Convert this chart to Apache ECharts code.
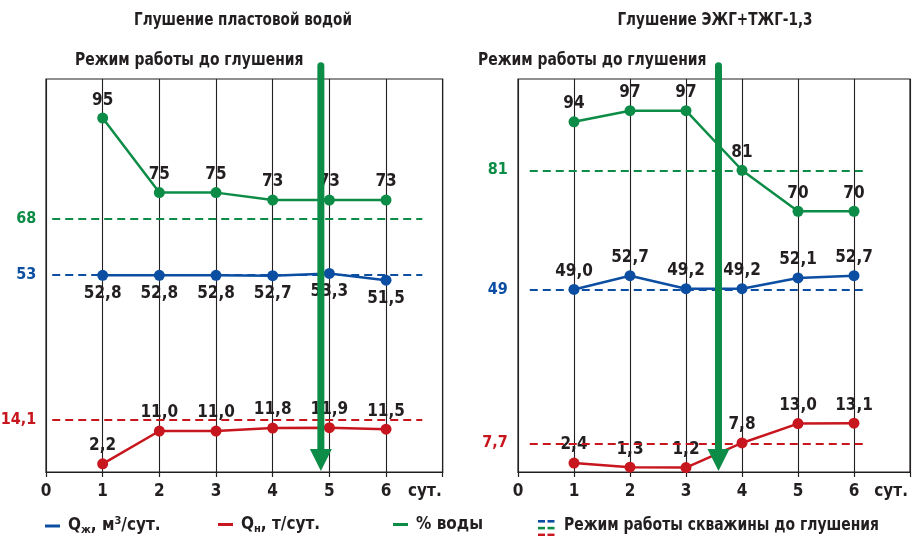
<!DOCTYPE html>
<html>
<head>
<meta charset="utf-8">
<script src="https://cdn.jsdelivr.net/npm/echarts@6/dist/echarts.min.js"></script>
<style>
  html, body { margin: 0; padding: 0; background: #fff; }
  #chart { width: 913px; height: 536px; }
</style>
</head>
<body>
<div id="chart"></div>
<script>
// Day axis
const xTicks = ['0', '1', '2', '3', '4', '5', '6'];
const days = [1, 2, 3, 4, 5, 6];

// Panel titles
const panelTitles = ['Глушение пластовой водой', 'Глушение ЭЖГ+ТЖГ-1,3'];
const regimeTitle = 'Режим работы до глушения';

// Well kill with formation water
const water1 = [95, 75, 75, 73, 73, 73];
const liquid1 = [52.8, 52.8, 52.8, 52.7, 53.3, 51.5];
const oil1 = [2.2, 11.0, 11.0, 11.8, 11.9, 11.5];

// Well kill with EZhG + TZhG-1.3
const water2 = [94, 97, 97, 81, 70, 70];
const liquid2 = [49.0, 52.7, 49.2, 49.2, 52.1, 52.7];
const oil2 = [2.4, 1.3, 1.2, 7.8, 13.0, 13.1];

// Operating regime before the kill (per panel)
const baseWater = [68, 81];
const baseLiquid = [53, 49];
const baseOil = [14.1, 7.7];

// Day of the kill operation (per panel)
const killDay = [4.85, 3.58];

const names = ['Qж, м3/сут.', 'Qн, т/сут.', '% воды'];
const legendRegime = 'Режим работы скважины до глушения';

const BLUE = '#0b4ea2';
const GREEN = '#0c8c46';
const RED = '#c8161e';
const INK = '#231f20';
const FONT = "'Liberation Sans Narrow', 'DejaVu Sans Condensed', 'Arial Narrow', sans-serif";

const Y_MAX = 105.5;
const ARROW_TOP = 110;
const dashStart = [0.11, 0.21];
const dashEnd = [6.64, 6.19];
const dashLabelGap = [16, 22];

function fmt(v, dec) {
  return v.toFixed(dec).replace('.', ',');
}

const grids = [
  { left: 46, top: 79, width: 396.7, height: 393 },
  { left: 518, top: 79, width: 397, height: 393 }
];

function xAxisFor(p) {
  return {
    type: 'value', gridIndex: p, min: 0, max: 7, interval: 1,
    axisLine: { show: true, lineStyle: { color: INK, width: 1.2 } },
    axisTick: { show: true, length: 5, lineStyle: { color: INK, width: 1.2 } },
    splitLine: { show: true, lineStyle: { color: INK, width: 1.1 } },
    axisLabel: {
      margin: 11, color: INK, fontSize: 17, fontWeight: 'bold', fontFamily: FONT,
      formatter: v => (xTicks[v] !== undefined ? xTicks[v] : '')
    },
    name: 'сут.', nameLocation: 'end', nameGap: p === 0 ? -1 : -2,
    nameTextStyle: {
      align: 'right', verticalAlign: 'top', padding: [11, 0, 0, 0],
      color: INK, fontSize: 17, fontWeight: 'bold', fontFamily: FONT
    }
  };
}

function yAxisFor(p) {
  return { type: 'value', gridIndex: p, min: 0, max: Y_MAX, show: false, splitLine: { show: false } };
}

function baseLine(p, value, color) {
  return {
    silent: true, symbol: ['none', 'none'], animation: false,
    lineStyle: { color: color, width: 2, type: [8, 5] },
    label: {
      show: true, position: 'start', distance: dashLabelGap[p],
      formatter: () => String(value).replace('.', ','),
      color: color, fontSize: 16, fontWeight: 'bold', fontFamily: FONT
    },
    emphasis: { disabled: true },
    data: [[{ coord: [dashStart[p], value] }, { coord: [dashEnd[p], value] }]]
  };
}

function lineSeries(p, name, values, color, dec, labelPos, base) {
  return {
    type: 'line', name: name, xAxisIndex: p, yAxisIndex: p, z: 3,
    data: days.map((d, i) => [d, values[i]]),
    symbol: 'circle', symbolSize: 11, animation: false,
    lineStyle: { color: color, width: 2.5 },
    itemStyle: { color: color },
    label: {
      show: true, position: labelPos, distance: 4,
      formatter: prm => fmt(prm.value[1], dec),
      color: INK, fontSize: 17, fontWeight: 'bold', fontFamily: FONT
    },
    emphasis: { disabled: true },
    markLine: baseLine(p, base, color)
  };
}

function arrowSeries(p) {
  return {
    type: 'custom', xAxisIndex: p, yAxisIndex: p, z: 10, silent: true, animation: false,
    data: [[killDay[p], ARROW_TOP]],
    renderItem: (params, api) => {
      const top = api.coord([api.value(0), api.value(1)]);
      const base = api.coord([api.value(0), 0]);
      const headH = 23, headW = 22, shaft = 7;
      return {
        type: 'group',
        children: [
          { type: 'line', shape: { x1: top[0], y1: top[1] + shaft / 2, x2: base[0], y2: base[1] - headH + 1 },
            style: { stroke: GREEN, lineWidth: shaft, lineCap: 'round' } },
          { type: 'polygon', shape: { points: [[base[0] - headW / 2, base[1] - headH], [base[0] + headW / 2, base[1] - headH], [base[0], base[1] - 1]] },
            style: { fill: GREEN } }
        ]
      };
    }
  };
}

const series = [
  lineSeries(0, names[2], water1, GREEN, 0, 'top', baseWater[0]),
  lineSeries(0, names[0], liquid1, BLUE, 1, 'bottom', baseLiquid[0]),
  lineSeries(0, names[1], oil1, RED, 1, 'top', baseOil[0]),
  lineSeries(1, names[2], water2, GREEN, 0, 'top', baseWater[1]),
  lineSeries(1, names[0], liquid2, BLUE, 1, 'top', baseLiquid[1]),
  lineSeries(1, names[1], oil2, RED, 1, 'top', baseOil[1]),
  arrowSeries(0),
  arrowSeries(1)
];

const legendRich = {
  m: { fontSize: 17, fontWeight: 'bold', fontFamily: FONT, color: INK, lineHeight: 20 },
  s: { fontSize: 11, fontWeight: 'bold', fontFamily: FONT, color: INK, lineHeight: 11, verticalAlign: 'bottom' },
  p: { fontSize: 11, fontWeight: 'bold', fontFamily: FONT, color: INK, lineHeight: 11, verticalAlign: 'top' }
};
const legendText = {};
legendText[names[0]] = '{m|Q}{s|ж}{m|, м}{p|3}{m|/сут.}';
legendText[names[1]] = '{m|Q}{s|н}{m|, т/сут.}';
legendText[names[2]] = '{m|% воды}';

function legendFor(name, left) {
  return {
    data: [name], left: left, top: 516, padding: 0, selectedMode: false,
    icon: 'rect', itemWidth: 15, itemHeight: 3, itemGap: 0,
    formatter: n => legendText[n],
    textStyle: { padding: [0, 0, 0, 3], rich: legendRich }
  };
}

const titleFont = 'bold 18px ' + FONT;
const graphics = [
  { type: 'text', x: 243, y: 20, scaleX: 0.84, style: { text: panelTitles[0], font: titleFont, fill: INK, align: 'center', verticalAlign: 'middle' } },
  { type: 'text', x: 715, y: 20, scaleX: 0.84, style: { text: panelTitles[1], font: titleFont, fill: INK, align: 'center', verticalAlign: 'middle' } },
  { type: 'text', x: 75, y: 60, scaleX: 0.86, style: { text: regimeTitle, font: titleFont, fill: INK, align: 'left', verticalAlign: 'middle' } },
  { type: 'text', x: 478, y: 60, scaleX: 0.86, style: { text: regimeTitle, font: titleFont, fill: INK, align: 'left', verticalAlign: 'middle' } },
  {
    type: 'group', x: 538, y: 520,
    children: [BLUE, GREEN, RED].flatMap((c, i) => [
      { type: 'rect', shape: { x: 0, y: i * 6.8, width: 7, height: 2.6 }, style: { fill: c } },
      { type: 'rect', shape: { x: 9.5, y: i * 6.8, width: 7, height: 2.6 }, style: { fill: c } }
    ])
  },
  { type: 'text', x: 564, y: 525, scaleX: 0.86, style: { text: legendRegime, font: 'bold 18px ' + FONT, fill: INK, align: 'left', verticalAlign: 'middle' } }
];

const chart = echarts.init(document.getElementById('chart'), null, { renderer: 'canvas' });
chart.setOption({
  backgroundColor: '#ffffff',
  animation: false,
  grid: grids.map(g => Object.assign({ show: true, borderColor: INK, borderWidth: 1.2, backgroundColor: 'transparent', containLabel: false }, g)),
  xAxis: [xAxisFor(0), xAxisFor(1)],
  yAxis: [yAxisFor(0), yAxisFor(1)],
  legend: [legendFor(names[0], 45), legendFor(names[1], 218), legendFor(names[2], 393)],
  series: series,
  graphic: graphics
});
</script>
</body>
</html>
